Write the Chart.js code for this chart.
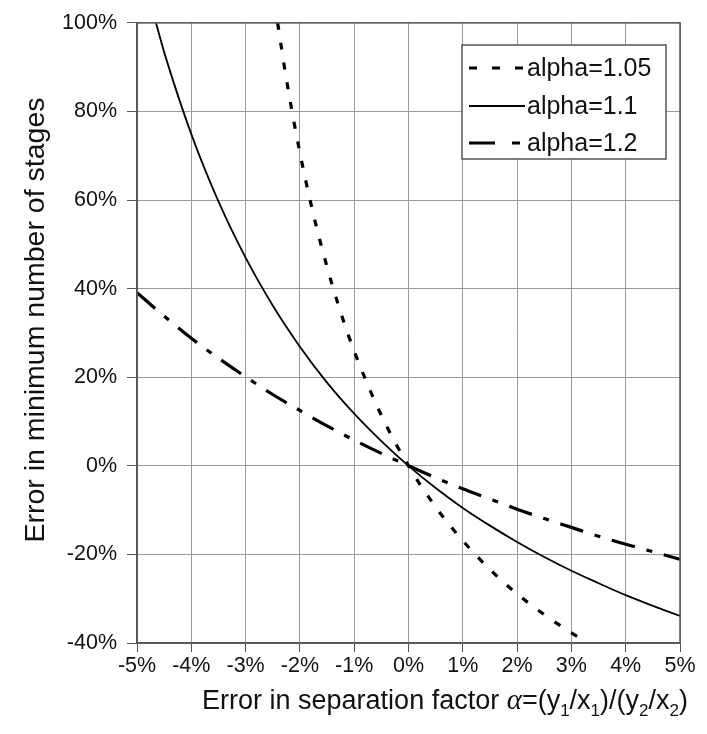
<!DOCTYPE html>
<html>
<head>
<meta charset="utf-8">
<script src="https://cdn.jsdelivr.net/npm/chart.js@4.4.1/dist/chart.umd.min.js"></script>
<style>
  body { margin: 0; background: #fff; }
  #chart { display: block; }
</style>
</head>
<body>
<canvas id="chart" width="707" height="734"></canvas>
<script>
// Error in minimum number of stages vs error in separation factor

// x values (% error in alpha) and y values (% error in Nmin)
const x105 = [-2.41, -2.25, -2, -1.75, -1.5, -1.25, -1, -0.5, 0, 0.5, 1, 1.5, 2, 2.5, 3, 3.31];
const y105 = [100, 87.4, 70.7, 56.7, 44.9, 34.7, 25.9, 11.4, 0, -9.3, -16.9, -23.4, -28.9, -33.6, -37.7, -40];

const x11 = [-4.65, -4.5, -4, -3.5, -3, -2.5, -2, -1.5, -1, -0.5, 0, 0.5, 1, 1.5, 2, 2.5, 3, 3.5, 4, 4.5, 5];
const y11 = [100, 93.4, 74.9, 59.7, 47.0, 36.2, 26.9, 18.8, 11.8, 5.6, 0, -5.0, -9.5, -13.5, -17.2, -20.6, -23.7, -26.5, -29.2, -31.6, -33.9];

const x12 = [-5, -4.5, -4, -3.5, -3, -2.5, -2, -1.5, -1, -0.5, 0, 0.5, 1, 1.5, 2, 2.5, 3, 3.5, 4, 4.5, 5];
const y12 = [39.1, 33.8, 28.8, 24.3, 20.1, 16.1, 12.5, 9.0, 5.8, 2.8, 0, -2.7, -5.2, -7.5, -9.8, -11.9, -13.9, -15.9, -17.7, -19.4, -21.1];

const seriesLabels = ['alpha=1.05', 'alpha=1.1', 'alpha=1.2'];
const xTicks = [-5, -4, -3, -2, -1, 0, 1, 2, 3, 4, 5];
const yTicks = [-40, -20, 0, 20, 40, 60, 80, 100];

const FONT = 'Arial, "Liberation Sans", Helvetica, sans-serif';
const INK = '#111';

function toPoints(xs, ys) {
    return xs.map((x, i) => ({ x: x, y: ys[i] }));
}

// Frame around the plot area (Chart.js only draws left/bottom borders)
const framePlugin = {
    id: 'frame',
    afterDatasetsDraw(chart) {
        const a = chart.chartArea;
        const ctx = chart.ctx;
        ctx.save();
        ctx.strokeStyle = '#555';
        ctx.lineWidth = 1.5;
        ctx.strokeRect(a.left, a.top, a.right - a.left, a.bottom - a.top);
        ctx.restore();
    }
};

// Axis titles, x title has subscripts and a greek alpha
const titlesPlugin = {
    id: 'titles',
    afterDraw(chart) {
        const ctx = chart.ctx;
        ctx.save();
        ctx.fillStyle = INK;

        // y title
        ctx.font = '28.5px ' + FONT;
        ctx.textAlign = 'center';
        ctx.textBaseline = 'middle';
        ctx.translate(36, 320);
        ctx.rotate(-Math.PI / 2);
        ctx.fillText('Error in minimum number of stages', 0, 0);
        ctx.setTransform(1, 0, 0, 1, 0, 0);

        // x title
        const main = '27px ' + FONT;
        const sub = '17px ' + FONT;
        const greek = 'italic 29px "Liberation Serif", "DejaVu Serif", serif';
        const parts = [
            ['Error in separation factor ', main, 0],
            ['\u03b1', greek, 0],
            ['=(y', main, 0], ['1', sub, 7],
            ['/x', main, 0], ['1', sub, 7],
            [')/(y', main, 0], ['2', sub, 7],
            ['/x', main, 0], ['2', sub, 7],
            [')', main, 0]
        ];
        let total = 0;
        parts.forEach(p => { ctx.font = p[1]; total += ctx.measureText(p[0]).width; });
        let x = 445 - total / 2;
        const baseY = 709;
        ctx.textAlign = 'left';
        ctx.textBaseline = 'alphabetic';
        parts.forEach(p => {
            ctx.font = p[1];
            ctx.fillText(p[0], x, baseY + p[2]);
            x += ctx.measureText(p[0]).width;
        });
        ctx.restore();
    }
};

// Boxed legend with line samples
const legendPlugin = {
    id: 'boxLegend',
    afterDraw(chart) {
        const ctx = chart.ctx;
        const box = { left: 462, top: 45, width: 204, height: 114 };
        ctx.save();
        ctx.fillStyle = '#fff';
        ctx.fillRect(box.left, box.top, box.width, box.height);
        ctx.strokeStyle = '#555';
        ctx.lineWidth = 1.5;
        ctx.strokeRect(box.left, box.top, box.width, box.height);

        const rows = [68, 106, 143];
        chart.data.datasets.forEach((ds, i) => {
            const y = rows[i];
            ctx.strokeStyle = ds.borderColor;
            ctx.lineWidth = ds.borderWidth;
            ctx.setLineDash(ds.legendDash || []);
            ctx.beginPath();
            ctx.moveTo(469, y);
            ctx.lineTo(525, y);
            ctx.stroke();
            ctx.setLineDash([]);
            ctx.fillStyle = INK;
            ctx.font = '25px ' + FONT;
            ctx.textAlign = 'left';
            ctx.textBaseline = 'middle';
            ctx.fillText(ds.label, 527, y + 1);
        });
        ctx.restore();
    }
};

const tickFont = { family: FONT, size: 21.5 };

new Chart(document.getElementById('chart'), {
    type: 'line',
    data: {
        datasets: [
            {
                label: seriesLabels[0],
                data: toPoints(x105, y105),
                borderColor: '#000',
                borderWidth: 3.2,
                borderDash: [7, 13],
                legendDash: [8, 15],
                pointRadius: 0,
                cubicInterpolationMode: 'monotone'
            },
            {
                label: seriesLabels[1],
                data: toPoints(x11, y11),
                borderColor: '#000',
                borderWidth: 1.8,
                pointRadius: 0,
                cubicInterpolationMode: 'monotone'
            },
            {
                label: seriesLabels[2],
                data: toPoints(x12, y12),
                borderColor: '#000',
                borderWidth: 3.2,
                borderDash: [24, 12, 6, 12],
                legendDash: [26, 17, 8, 20],
                pointRadius: 0,
                cubicInterpolationMode: 'monotone'
            }
        ]
    },
    options: {
        responsive: false,
        animation: false,
        events: [],
        layout: {
            padding: { top: 15, right: 27, left: 0, bottom: 0 }
        },
        plugins: {
            legend: { display: false },
            tooltip: { enabled: false }
        },
        scales: {
            x: {
                type: 'linear',
                min: -5,
                max: 5,
                afterBuildTicks: function(scale) {
                    scale.ticks = xTicks.map(v => ({ value: v }));
                },
                afterFit: function(scale) {
                    scale.height = 91;
                },
                ticks: {
                    font: tickFont,
                    color: INK,
                    padding: 1,
                    maxRotation: 0,
                    callback: function(value) {
                        return value + '%';
                    }
                },
                grid: {
                    color: '#999',
                    lineWidth: 1,
                    tickLength: 9,
                    tickColor: '#555'
                },
                border: { color: '#555', width: 1.5 }
            },
            y: {
                min: -40,
                max: 100,
                afterBuildTicks: function(scale) {
                    scale.ticks = yTicks.map(v => ({ value: v }));
                },
                afterFit: function(scale) {
                    scale.width = 137;
                },
                ticks: {
                    font: tickFont,
                    color: INK,
                    padding: 10,
                    callback: function(value) {
                        return value + '%';
                    }
                },
                grid: {
                    color: '#999',
                    lineWidth: 1,
                    tickLength: 10,
                    tickColor: '#555'
                },
                border: { color: '#555', width: 1.5 }
            }
        }
    },
    plugins: [framePlugin, titlesPlugin, legendPlugin]
});
</script>
</body>
</html>
